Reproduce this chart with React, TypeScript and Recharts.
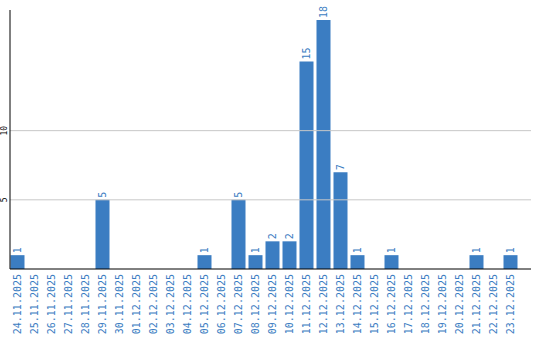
import { Bar, BarChart, LabelList, ReferenceLine, XAxis, YAxis } from "recharts";

const dates = [
  "24.11.2025", "25.11.2025", "26.11.2025", "27.11.2025", "28.11.2025",
  "29.11.2025", "30.11.2025", "01.12.2025", "02.12.2025", "03.12.2025",
  "04.12.2025", "05.12.2025", "06.12.2025", "07.12.2025", "08.12.2025",
  "09.12.2025", "10.12.2025", "11.12.2025", "12.12.2025", "13.12.2025",
  "14.12.2025", "15.12.2025", "16.12.2025", "17.12.2025", "18.12.2025",
  "19.12.2025", "20.12.2025", "21.12.2025", "22.12.2025", "23.12.2025",
];

const counts = [
  1, 0, 0, 0, 0,
  5, 0, 0, 0, 0,
  0, 1, 0, 5, 1,
  2, 2, 15, 18, 7,
  1, 0, 1, 0, 0,
  0, 0, 1, 0, 1,
];

const yTicks = [5, 10];

const rows = dates.map((date, i) => ({ date, count: counts[i] }));

const BLUE = "#3b7dc2";
const FONT = "'DejaVu Sans Mono', monospace";

function DateTick({ x, y, payload }: any) {
  const ty = y - 3;
  return (
    <text
      x={x + 3.5}
      y={ty}
      transform={`rotate(-90, ${x + 3.5}, ${ty})`}
      textAnchor="end"
      fill={BLUE}
      fontSize={10}
      fontFamily={FONT}
    >
      {payload.value}
    </text>
  );
}

function CountTick({ y, payload }: any) {
  return (
    <text
      x={7}
      y={y}
      transform={`rotate(-90, 7, ${y})`}
      textAnchor="middle"
      fill="#000"
      fontSize={8}
      fontFamily={FONT}
    >
      {payload.value}
    </text>
  );
}

function ValueLabel({ x, y, width, value }: any) {
  if (!value) return null;
  const cx = x + width / 2 + 3.5;
  return (
    <text
      x={cx}
      y={y - 2}
      transform={`rotate(-90, ${cx}, ${y - 2})`}
      textAnchor="start"
      fill={BLUE}
      fontSize={10}
      fontFamily={FONT}
    >
      {value}
    </text>
  );
}

export default function App() {
  return (
    <div style={{ position: "absolute", left: 0, top: 0, background: "#fff" }}>
      <BarChart
        width={540}
        height={340}
        data={rows}
        margin={{ top: 10, right: 9, left: 0, bottom: 0 }}
        barSize={14}
      >
        {yTicks.map((t) => (
          <ReferenceLine key={t} y={t} stroke="#c8c8c8" />
        ))}
        <XAxis
          dataKey="date"
          interval={0}
          height={71}
          tickLine={false}
          axisLine={{ stroke: "#000" }}
          padding={{ left: -1.5, right: 12.5 }}
          tick={<DateTick />}
        />
        <YAxis
          width={10}
          domain={[0, 18.72]}
          ticks={yTicks}
          tickLine={false}
          axisLine={{ stroke: "#000" }}
          tick={<CountTick />}
        />
        <Bar dataKey="count" fill={BLUE} isAnimationActive={false}>
          <LabelList dataKey="count" content={<ValueLabel />} />
        </Bar>
      </BarChart>
    </div>
  );
}
